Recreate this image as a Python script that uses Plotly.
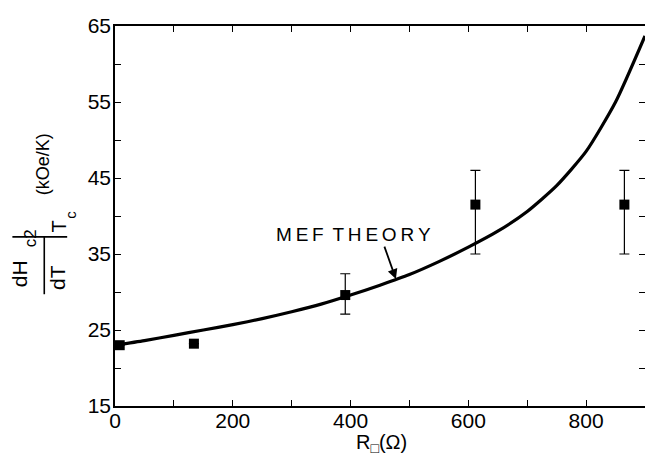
import plotly.graph_objects as go

# Data
R_points = [8, 134, 391, 612, 865]
dH_points = [23.0, 23.2, 29.6, 41.5, 41.5]
err_plus = [0, 0, 2.8, 4.5, 4.5]
err_minus = [0, 0, 2.5, 6.5, 6.5]

theory_R = [0, 50, 100, 150, 200, 250, 300, 350, 400, 450, 500, 550, 600, 650, 700, 750, 800, 850, 900]
theory_dH = [23.0, 23.6, 24.3, 25.0, 25.7, 26.5, 27.4, 28.4, 29.6, 30.9, 32.3, 34.0, 35.9, 38.0, 40.6, 44.0, 48.5, 55.0, 63.7]

x_tickvals = list(range(0, 901, 100))
x_ticktext = [str(v) if v % 200 == 0 and v < 900 else "" for v in x_tickvals]
y_tickvals = list(range(15, 66, 5))
y_ticktext = [str(v) if (v - 15) % 10 == 0 else "" for v in y_tickvals]

FONT = "Liberation Sans"
OFF = 8  # browser body margin
L, R, T, B = 115, 647, 15, 406  # plot area in screen pixels
W, H = R - L, B - T
FIG_W, FIG_H = 653 - OFF, 464 - OFF


def px(xp):
    return (xp - L) / W


def py(yp):
    return (B - yp) / H


fig = go.Figure()
fig.add_trace(go.Scatter(x=theory_R, y=theory_dH, mode="lines",
                         line=dict(color="black", width=3.2, shape="spline", smoothing=0.6),
                         showlegend=False, hoverinfo="skip"))
fig.add_trace(go.Scatter(x=R_points, y=dH_points, mode="markers",
                         marker=dict(symbol="square", size=10, color="black"),
                         error_y=dict(type="data", symmetric=False, array=err_plus, arrayminus=err_minus,
                                      color="black", thickness=1.2, width=5),
                         showlegend=False))

ann = []
ann.append(dict(x=px(354), y=py(230), xref="paper", yref="paper", showarrow=False,
                text="M\u2009E\u2009F\u2009 T\u2009H\u2009E\u2009O\u2009R\u2009Y",
                font=dict(family=FONT, size=19, color="black"), xanchor="center", yanchor="middle"))
ann.append(dict(x=477, y=31.7, xref="x", yref="y", text="", showarrow=True, arrowhead=2,
                arrowsize=1.1, arrowwidth=1.8, arrowcolor="black", ax=-12, ay=-34))
for txt, cx, cy, sz in [("dH", 19, 270, 21), ("c2", 31, 233, 17), ("dT", 57, 274, 21),
                        ("T", 59, 221, 20), ("c", 70, 209, 15), ("(kOe/K)", 43, 157, 18)]:
    ann.append(dict(x=px(cx), y=py(cy), xref="paper", yref="paper", showarrow=False, text=txt,
                    textangle=-90, font=dict(family=FONT, size=sz, color="black"),
                    xanchor="center", yanchor="middle"))
ann.append(dict(x=px(383), y=py(445), xref="paper", yref="paper", showarrow=False,
                text="R<sub>\u25a1</sub>(\u03a9)", font=dict(family=FONT, size=20, color="black"),
                xanchor="center", yanchor="middle"))

shapes = [
    dict(type="line", xref="paper", yref="paper", x0=px(44), x1=px(44), y0=py(232), y1=py(291),
         line=dict(color="black", width=1.6)),
    dict(type="line", xref="paper", yref="paper", x0=px(12), x1=px(67), y0=py(232), y1=py(232),
         line=dict(color="black", width=1.6)),
]

fig.update_layout(
    width=FIG_W, height=FIG_H,
    margin=dict(l=L - OFF, r=FIG_W - (R - OFF), t=T - OFF, b=FIG_H - (B - OFF)),
    paper_bgcolor="white", plot_bgcolor="white",
    annotations=ann, shapes=shapes,
    font=dict(family=FONT, size=21, color="black"),
)
fig.update_xaxes(range=[0, 900], tickvals=x_tickvals, ticktext=x_ticktext, ticks="inside", ticklen=6,
                 tickcolor="black", showline=True, linecolor="black", linewidth=1.5, mirror="ticks",
                 showgrid=False, zeroline=False, tickfont=dict(family=FONT, size=21),
                 ticklabelstandoff=-5, ticklabeloverflow="allow")
fig.update_yaxes(range=[15, 65], tickvals=y_tickvals, ticktext=y_ticktext, ticks="inside", ticklen=6,
                 tickcolor="black", showline=True, linecolor="black", linewidth=1.5, mirror="ticks",
                 showgrid=False, zeroline=False, tickfont=dict(family=FONT, size=21),
                 ticklabelstandoff=-2, ticklabeloverflow="allow")

fig.write_html("out.html")
